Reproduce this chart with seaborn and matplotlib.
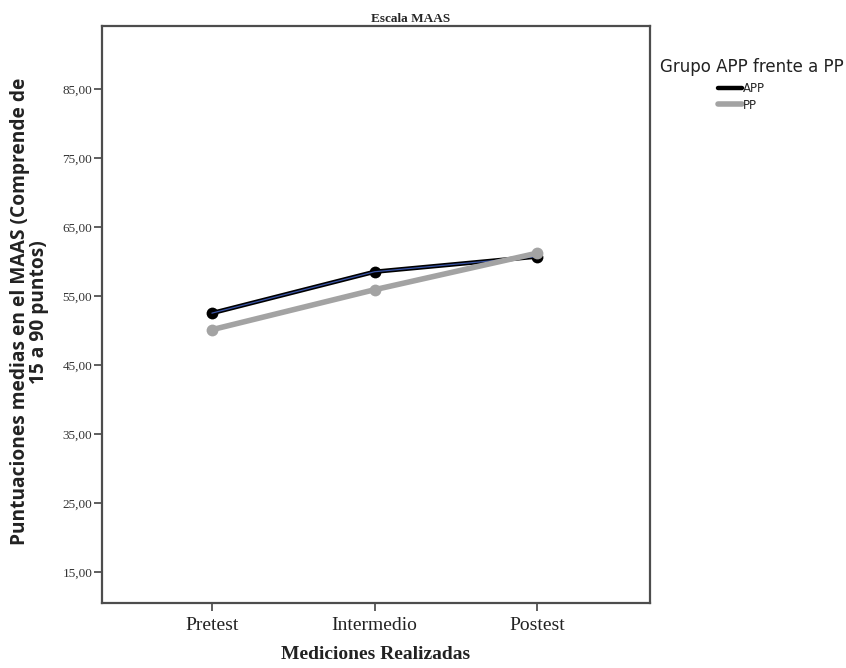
import pandas as pd
import matplotlib.pyplot as plt
import seaborn as sns
from matplotlib.lines import Line2D

mediciones = ["Pretest", "Intermedio", "Postest"]
app_vals = [52.5, 58.5, 60.7]
pp_vals = [50.1, 55.9, 61.2]
y_ticks = [15, 25, 35, 45, 55, 65, 75, 85]
y_ticklabels = ["15,00", "25,00", "35,00", "45,00", "55,00", "65,00", "75,00", "85,00"]

df_app = pd.DataFrame({"Medicion": mediciones, "Puntuacion": app_vals})
df_pp = pd.DataFrame({"Medicion": mediciones, "Puntuacion": pp_vals})

sns.set_style("white")
serif = "Liberation Serif"

fig = plt.figure(figsize=(8.46, 6.68), dpi=100)
ax = fig.add_axes([0.1206, 0.0973, 0.6474, 0.8637])

# APP: black line with thin blue core
sns.lineplot(data=df_app, x="Medicion", y="Puntuacion", color="black", lw=3.2,
             marker="o", markersize=8.5, markeredgewidth=0, sort=False, ax=ax, zorder=2)
sns.lineplot(data=df_app, x="Medicion", y="Puntuacion", color="#3a55a8", lw=0.9,
             sort=False, ax=ax, zorder=2.1)
# PP: gray on top
sns.lineplot(data=df_pp, x="Medicion", y="Puntuacion", color="#a3a3a3", lw=4,
             marker="o", markersize=8.5, markeredgewidth=0, sort=False, ax=ax, zorder=2.2)

ax.set_xlim(-0.675, 2.69)
ax.set_ylim(10.5, 94.1)
ax.set_yticks(y_ticks)
ax.set_yticklabels(y_ticklabels, fontsize=9.5, family=serif, color="#333333")
ax.set_xticks(range(len(mediciones)))
ax.set_xticklabels(mediciones, fontsize=14, family=serif, color="#222222")
ax.tick_params(axis="both", direction="out", length=6, width=1.2, color="#444444",
               left=True, bottom=True)
ax.tick_params(axis="x", pad=4)
ax.tick_params(axis="y", pad=1)

for s in ax.spines.values():
    s.set_color("#4d4d4d")
    s.set_linewidth(1.6)

ax.set_title("Escala MAAS", fontsize=9.5, family=serif, fontweight="bold", pad=3, x=0.564)
ax.set_xlabel("Mediciones Realizadas", fontsize=14, family=serif, fontweight="bold",
              labelpad=9, color="#222222")
ax.set_ylabel("Puntuaciones medias en el MAAS (Comprende de\n15 a 90 puntos)",
              fontsize=13.8, fontweight="bold", family="Open Sans", linespacing=0.95,
              color="#222222")
ax.yaxis.set_label_coords(-0.097, 0.505)

# legend title drawn separately so entries sit where the reference has them
fig.text(660 / 846, 1 - 67 / 668, "Grupo APP frente a PP", fontsize=12,
         ha="left", va="center", color="#222222")
handles = [Line2D([], [], color="black", lw=3.2), Line2D([], [], color="#a3a3a3", lw=4)]
leg = fig.legend(handles, ["APP", "PP"], loc="upper left",
                 bbox_to_anchor=(718 / 846, 1 - 82 / 668), frameon=False,
                 fontsize=8.5, handlelength=2.0, handletextpad=0.1,
                 labelspacing=0.3, borderaxespad=0, borderpad=0)

plt.savefig("out.png", dpi=100)
